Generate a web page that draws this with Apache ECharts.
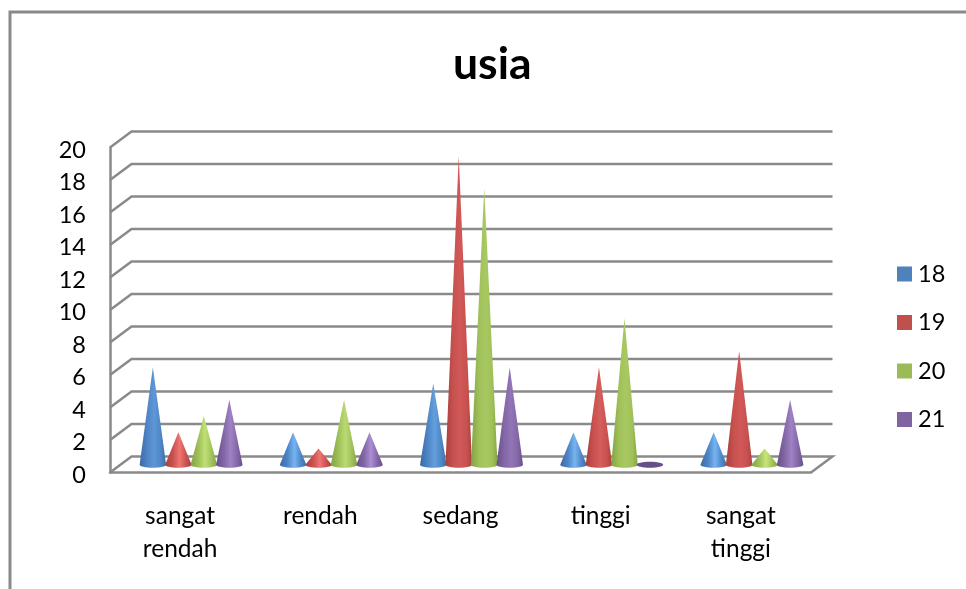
<!DOCTYPE html>
<html>
<head>
<meta charset="utf-8">
<style>html,body{margin:0;padding:0;background:#fff}#chart{width:966px;height:589px}</style>
<script src="https://cdn.jsdelivr.net/npm/echarts@6/dist/echarts.min.js"></script>
</head>
<body>
<div id="chart"></div>
<script>
const categories = ['sangat\nrendah', 'rendah', 'sedang', 'tinggi', 'sangat\ntinggi'];
const age18 = [6, 2, 5, 2, 2];
const age19 = [2, 1, 19, 6, 7];
const age20 = [3, 4, 17, 9, 1];
const age21 = [4, 2, 6, 0, 4];
const seriesNames = ['18', '19', '20', '21'];
const yTicks = [0, 2, 4, 6, 8, 10, 12, 14, 16, 18, 20];

const FONT = 'Lato, "Noto Sans", sans-serif';
const LINE = '#8a8a8a';
const DEPTH_X = 21.5, DEPTH_Y = 16;
const CONE_STEP = 0.1818, CONE_HALF = 0.0945, BASE_RY = 3;

// [edge, mid, highlight, far edge] shades per series
const shades = [
  ['#3a6aa6', '#4f86c6', '#76b4f2', '#3c6ea8'],
  ['#a83f3d', '#c85250', '#f07472', '#a8403e'],
  ['#83a344', '#a0c05a', '#c6e67c', '#84a545'],
  ['#67508a', '#8367a6', '#ac8fd4', '#68518c']
];
const baseColors = ['#4F81BD', '#C0504D', '#9BBB59', '#8064A2'];

// Gridlines run along the floor edge, back into the wall, then across it.
function renderWall(params, api) {
  const sys = params.coordSys;
  const y = api.coord([0, api.value(1)])[1];
  const x0 = sys.x, x1 = sys.x + sys.width;
  const points = [[x0, y], [x0 + DEPTH_X, y - DEPTH_Y], [x1 + DEPTH_X, y - DEPTH_Y]];
  if (api.value(1) === 0) points.push([x1, y]);
  return { type: 'polyline', shape: { points }, style: { stroke: LINE, lineWidth: 2.5, fill: null } };
}

// One cone: a triangle closed by the lower half of an elliptical base.
function renderCone(seriesIndex) {
  return function (params, api) {
    const band = api.size([1, 0])[0];
    const value = api.value(1);
    const base = api.coord([api.value(0), 0]);
    const top = api.coord([api.value(0), value]);
    const cx = base[0] + (seriesIndex - 1.5) * CONE_STEP * band;
    const rx = CONE_HALF * band, ry = BASE_RY, by = base[1];
    if (value === 0) {
      return { type: 'ellipse', shape: { cx, cy: by, rx, ry },
        style: { fill: '#65508a' } };
    }
    const k = 0.5523;
    const d = `M${cx - rx} ${by} L${cx} ${top[1]} L${cx + rx} ${by} ` +
      `C${cx + rx} ${by + k * ry} ${cx + k * rx} ${by + ry} ${cx} ${by + ry} ` +
      `C${cx - k * rx} ${by + ry} ${cx - rx} ${by + k * ry} ${cx - rx} ${by} Z`;
    const s = shades[seriesIndex];
    // Taller cones carry a more muted highlight than short ones.
    const t = Math.min(1, Math.max(0, (value - 2) / 5));
    const glow = echarts.color.lerp(t * 0.8, [s[2], s[1]]);
    return {
      type: 'path',
      shape: { pathData: d },
      style: {
        fill: {
          type: 'linear', x: 0, y: 0, x2: 1, y2: 0,
          colorStops: [
            { offset: 0, color: s[0] }, { offset: 0.3, color: s[1] },
            { offset: 0.55, color: glow }, { offset: 0.8, color: s[1] },
            { offset: 1, color: s[3] }
          ]
        }
      }
    };
  };
}

const coneValues = [age18, age19, age20, age21];
const coneSeries = coneValues.map((vals, i) => ({
  name: seriesNames[i],
  type: 'custom',
  xAxisIndex: 1,
  yAxisIndex: 1,
  z: 5,
  itemStyle: { color: baseColors[i] },
  encode: { x: 0, y: 1 },
  data: vals.map((v, c) => [c, v]),
  renderItem: renderCone(i)
}));

const chart = echarts.init(document.getElementById('chart'));
chart.setOption({
  animation: false,
  backgroundColor: '#fff',
  title: {
    text: 'usia',
    left: 453,
    top: 42,
    padding: 0,
    textStyle: { fontFamily: FONT, fontWeight: 'bold', fontSize: 44.5, color: '#000' }
  },
  legend: {
    data: seriesNames,
    orient: 'vertical',
    left: 897,
    top: 262,
    padding: 0,
    itemWidth: 15,
    itemHeight: 15,
    itemGap: 24.5,
    icon: 'rect',
    textStyle: { fontFamily: FONT, fontSize: 23.5, color: '#000', padding: [0, 0, 0, 1] }
  },
  grid: [
    // front plane: carries the axes and labels
    { left: 110, top: 147.5, width: 701, height: 325 },
    // mid-depth plane: the cones stand here
    { left: 121, top: 139.7, width: 701, height: 325 }
  ],
  xAxis: [
    {
      gridIndex: 0, type: 'category', data: categories,
      axisLine: { show: true, lineStyle: { color: LINE, width: 2.5 } },
      axisTick: { show: false },
      axisLabel: { interval: 0, margin: 27, fontFamily: FONT, fontSize: 24.5, lineHeight: 33, color: '#000' }
    },
    { gridIndex: 1, type: 'category', data: categories, show: false }
  ],
  yAxis: [
    {
      gridIndex: 0, type: 'value', min: 0, max: 20, interval: 2,
      axisLine: { show: true, lineStyle: { color: LINE, width: 2.5 } },
      axisTick: { show: false },
      splitLine: { show: false },
      axisLabel: { margin: 24, fontFamily: FONT, fontSize: 23.5, color: '#000', verticalAlign: 'top', lineHeight: 5 }
    },
    { gridIndex: 1, type: 'value', min: 0, max: 20, interval: 2, show: false, splitLine: { show: false } }
  ],
  series: [
    {
      type: 'custom',
      xAxisIndex: 0,
      yAxisIndex: 0,
      z: 1,
      silent: true,
      encode: { x: 0, y: 1 },
      data: yTicks.map(t => [0, t]),
      renderItem: renderWall
    },
    ...coneSeries
  ],
  graphic: [
    {
      type: 'polyline',
      shape: { points: [[10, 589], [10, 12], [966, 12]] },
      style: { stroke: LINE, lineWidth: 3, fill: null }
    }
  ]
});
</script>
</body>
</html>
